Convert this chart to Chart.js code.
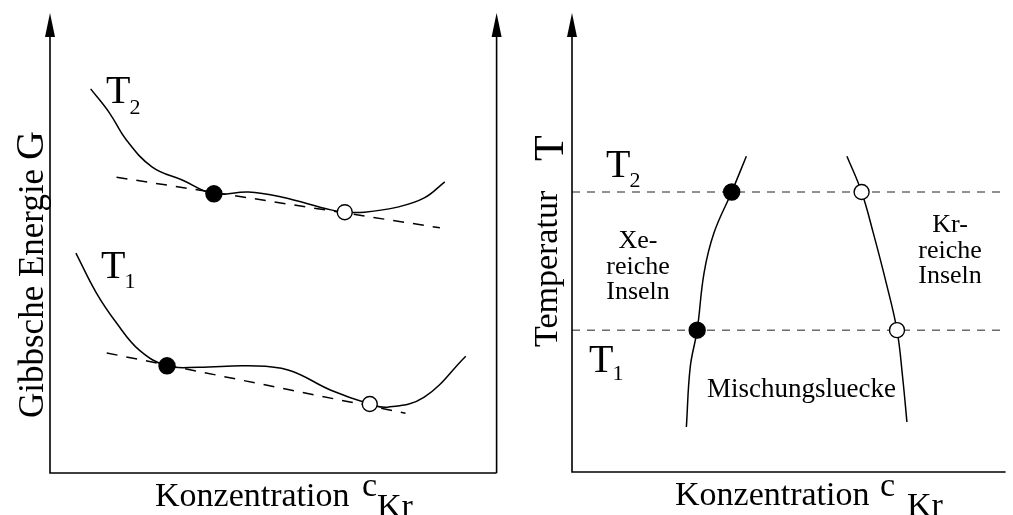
<!DOCTYPE html>
<html><head><meta charset="utf-8">
<script src="https://cdn.jsdelivr.net/npm/chart.js@4.4.0/dist/chart.umd.min.js"></script>
<style>
html,body{margin:0;padding:0;background:#fff;overflow:hidden}
#wrap{position:relative;width:1013px;height:515px;background:#fff}
canvas{position:absolute;top:0}
#cG{left:0}
#cT{left:506px}
</style></head><body>
<div id="wrap"><canvas id="cG" width="506" height="515"></canvas><canvas id="cT" width="507" height="515"></canvas></div>
<script>
// ---- Left panel: Gibbs energy G (arb. units, 0..10) vs. concentration c_Kr (0..1)
const concT2  = [0.091,0.133,0.171,0.229,0.296,0.367,0.444,0.518,0.629,0.660,0.704,0.778,0.838,0.884];
const gibbsT2 = [8.35, 7.83, 7.24, 6.65, 6.37, 6.07, 6.11, 6.00, 5.72, 5.67, 5.67, 5.78, 5.98, 6.33];
const concT1  = [0.058,0.104,0.149,0.200,0.262,0.333,0.444,0.533,0.629,0.716,0.756,0.838,0.931];
const gibbsT1 = [4.78, 3.91, 3.26, 2.67, 2.33, 2.30, 2.33, 2.24, 1.80, 1.50, 1.43, 1.65, 2.54];
const tangentConcT2  = [0.149, 0.873];
const tangentGibbsT2 = [6.43, 5.33];
const tangentConcT1  = [0.127, 0.796];
const tangentGibbsT1 = [2.61, 1.30];
const xeRichConc  = [0.367, 0.262];   // filled points (T2, T1)
const xeRichGibbs = [6.07, 2.33];
const krRichConc  = [0.660, 0.716];   // open points (T2, T1)
const krRichGibbs = [5.67, 1.50];

// ---- Right panel: temperature T (arb. units, 0..10) vs. concentration c_Kr (0..1)
const tempLevels = [6.10, 3.09];      // T2, T1
const xeBoundaryConc = [0.404,0.370,0.329,0.306,0.290,0.274,0.265];
const xeBoundaryTemp = [6.88, 6.10, 5.21, 4.34, 3.09, 2.29, 0.98];
const krBoundaryConc = [0.637,0.671,0.698,0.728,0.753,0.766,0.776];
const krBoundaryTemp = [6.88, 6.10, 5.21, 4.12, 3.09, 2.07, 1.09];
const xePhaseConc = [0.370, 0.290];   // on T2, T1
const krPhaseConc = [0.671, 0.753];

const FONT = '"Liberation Serif","Times New Roman",serif';
const pts = (xs, ys) => xs.map((x, i) => ({x, y: ys[i]}));

function lineDs(data, opts) {
  return Object.assign({data, showLine:true, borderColor:'#000', borderWidth:1.5,
    pointRadius:0, pointHoverRadius:0, tension:0.4, fill:false, order:2}, opts || {});
}
function dotDs(data, filled, r) {
  return {data, showLine:false, pointRadius:r, pointHoverRadius:r,
    pointBackgroundColor: filled ? '#000' : '#fff', pointBorderColor:'#000',
    pointBorderWidth: 1.4, order:0};
}

function arrowUp(ctx, x, yTip) {
  ctx.beginPath();
  ctx.moveTo(x, yTip); ctx.lineTo(x - 5, yTip + 24); ctx.lineTo(x + 5, yTip + 24);
  ctx.closePath(); ctx.fill();
}
function txt(ctx, s, x, y, size, align) {
  ctx.font = size + 'px ' + FONT;
  ctx.textAlign = align || 'left';
  ctx.textBaseline = 'alphabetic';
  ctx.fillText(s, x, y);
}
function sub(ctx, main, s, x, y, size, subSize, drop) {
  ctx.font = size + 'px ' + FONT;
  ctx.textAlign = 'left'; ctx.textBaseline = 'alphabetic';
  ctx.fillText(main, x, y);
  const w = ctx.measureText(main).width;
  ctx.font = subSize + 'px ' + FONT;
  ctx.fillText(s, x + w - 1, y + drop);
}

const commonOpts = (padding) => ({
  responsive:false, animation:false, devicePixelRatio:1,
  layout:{padding},
  scales:{
    x:{type:'linear', min:0, max:1, display:false},
    y:{type:'linear', min:0, max:10, display:false}
  },
  plugins:{legend:{display:false}, tooltip:{enabled:false}},
  events:[]
});

const leftDecor = {
  id:'leftDecor',
  afterDraw(chart) {
    const ctx = chart.ctx, a = chart.chartArea;
    ctx.save();
    ctx.strokeStyle = '#000'; ctx.fillStyle = '#000'; ctx.lineWidth = 1.6;
    ctx.beginPath();
    ctx.moveTo(a.left, a.top + 10); ctx.lineTo(a.left, a.bottom); ctx.lineTo(a.right, a.bottom);
    ctx.moveTo(a.right, a.bottom); ctx.lineTo(a.right, a.top + 10);
    ctx.stroke();
    arrowUp(ctx, a.left, a.top); arrowUp(ctx, a.right, a.top);
    sub(ctx, 'T', '2', 106, 103, 40, 22, 11);
    sub(ctx, 'T', '1', 101, 278, 40, 22, 10);
    txt(ctx, 'Konzentration', 155, 506, 34);
    txt(ctx, 'c', 362, 496, 34);
    txt(ctx, 'Kr', 377, 517, 34);
    ctx.translate(43, 418);
    ctx.rotate(-Math.PI / 2);
    ctx.font = '35px ' + FONT; ctx.textAlign = 'left';
    ctx.fillText('Gibbsche Energie ', 0, 0);
    const w = ctx.measureText('Gibbsche Energie ').width;
    ctx.font = '40px ' + FONT;
    ctx.fillText('G', w, 0);
    ctx.restore();
  }
};

const rightDecor = {
  id:'rightDecor',
  afterDraw(chart) {
    const ctx = chart.ctx, a = chart.chartArea;
    ctx.save();
    ctx.strokeStyle = '#000'; ctx.fillStyle = '#000'; ctx.lineWidth = 1.6;
    ctx.beginPath();
    ctx.moveTo(a.left, a.top + 10); ctx.lineTo(a.left, a.bottom); ctx.lineTo(a.right + 2, a.bottom);
    ctx.stroke();
    arrowUp(ctx, a.left, a.top);
    const o = -506; // page -> canvas x offset
    sub(ctx, 'T', '2', 606 + o, 177, 40, 22, 10);
    sub(ctx, 'T', '1', 589 + o, 372, 40, 22, 8);
    txt(ctx, 'Xe-', 638 + o, 248, 26, 'center');
    txt(ctx, 'reiche', 638 + o, 274, 26, 'center');
    txt(ctx, 'Inseln', 638 + o, 299, 26, 'center');
    txt(ctx, 'Kr-', 950 + o, 232, 26, 'center');
    txt(ctx, 'reiche', 950 + o, 258, 26, 'center');
    txt(ctx, 'Inseln', 950 + o, 283, 26, 'center');
    txt(ctx, 'Mischungsluecke', 707 + o, 397, 27);
    txt(ctx, 'Konzentration', 675 + o, 505, 34);
    txt(ctx, 'c', 880 + o, 496, 34);
    txt(ctx, 'Kr', 907 + o, 516, 34);
    ctx.translate(557 + o, 347);
    ctx.rotate(-Math.PI / 2);
    ctx.font = '34px ' + FONT; ctx.textAlign = 'left';
    ctx.fillText('Temperatur', 0, 0);
    ctx.font = '42px ' + FONT;
    ctx.fillText('T', 186, 6);
    ctx.restore();
  }
};

new Chart(document.getElementById('cG'), {
  type:'scatter',
  data:{datasets:[
    dotDs(pts(xeRichConc, xeRichGibbs), true, 8),
    dotDs(pts(krRichConc, krRichGibbs), false, 7.5),
    lineDs(pts(concT2, gibbsT2)),
    lineDs(pts(concT1, gibbsT1)),
    lineDs(pts(tangentConcT2, tangentGibbsT2), {borderDash:[11,9], tension:0}),
    lineDs(pts(tangentConcT1, tangentGibbsT1), {borderDash:[11,9], tension:0})
  ]},
  options: commonOpts({left:50, right:6, top:13, bottom:42}),
  plugins:[leftDecor]
});

new Chart(document.getElementById('cT'), {
  type:'scatter',
  data:{datasets:[
    dotDs(pts(xePhaseConc, tempLevels), true, 8),
    dotDs(pts(krPhaseConc, tempLevels), false, 7.5),
    lineDs(pts(xeBoundaryConc, xeBoundaryTemp)),
    lineDs(pts(krBoundaryConc, krBoundaryTemp)),
    lineDs(pts([0, 1], [tempLevels[0], tempLevels[0]]), {borderDash:[8,7], borderWidth:1, tension:0, borderColor:'#222'}),
    lineDs(pts([0, 1], [tempLevels[1], tempLevels[1]]), {borderDash:[8,7], borderWidth:1, tension:0, borderColor:'#222'})
  ]},
  options: commonOpts({left:66, right:0, top:13, bottom:43}),
  plugins:[rightDecor]
});
</script>
</body></html>
